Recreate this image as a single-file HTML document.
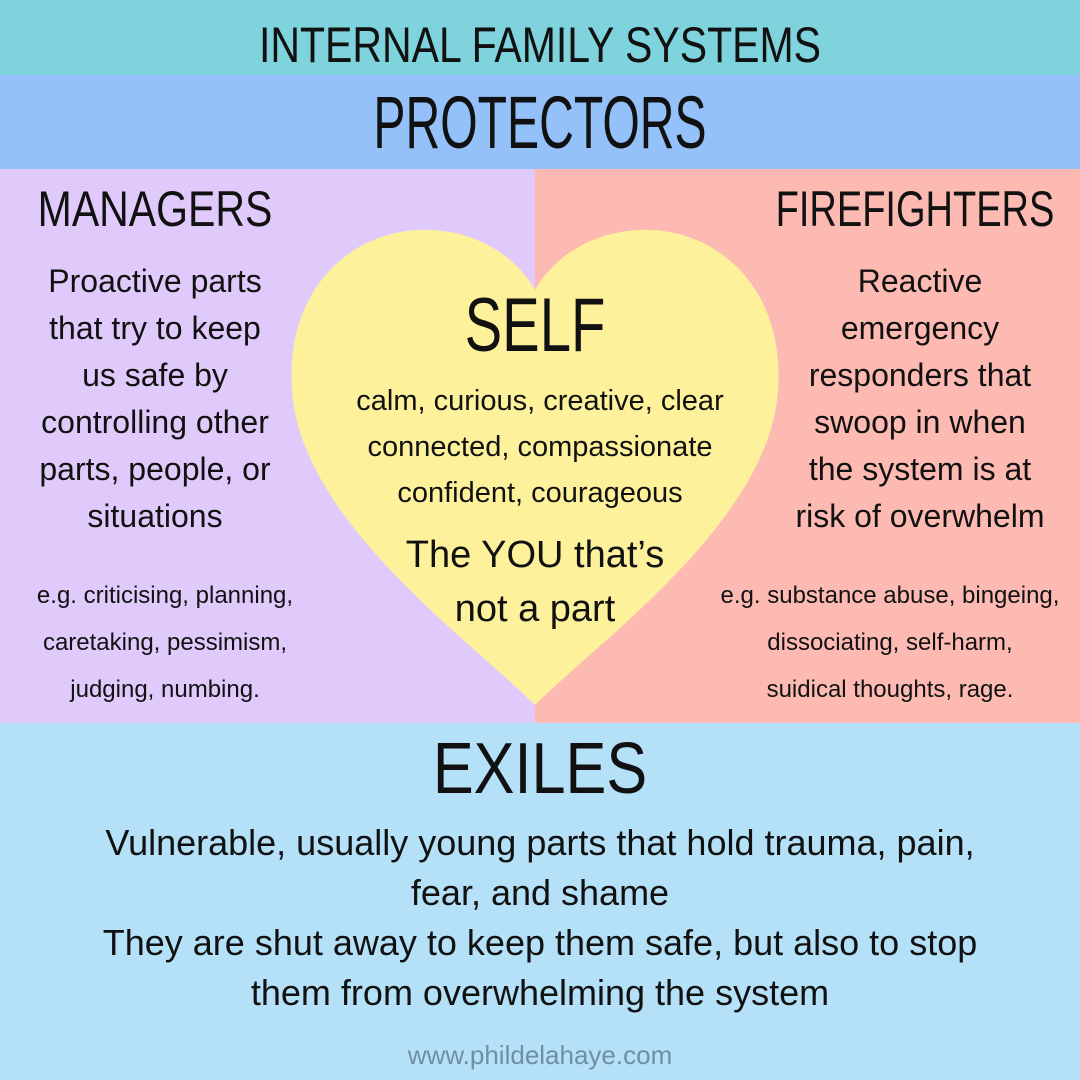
<!DOCTYPE html>
<html><head><meta charset="utf-8"><style>
html,body{margin:0;padding:0}
body{width:1080px;height:1080px;position:relative;overflow:hidden;font-family:"Liberation Sans",sans-serif;color:#111}
.b{position:absolute;left:0;width:1080px}
.t{position:absolute;text-align:center;white-space:nowrap}
</style></head><body>
<div class="b" style="top:0;height:75px;background:#7ed3dc"></div>
<div class="b" style="top:75px;height:94px;background:#95c1fa"></div>
<div style="position:absolute;left:0;top:169px;width:535px;height:554px;background:#e0cafb"></div>
<div style="position:absolute;left:535px;top:169px;width:545px;height:554px;background:#fdbab3"></div>
<div class="b" style="top:723px;height:357px;background:#b4e1f8"></div>
<svg style="position:absolute;left:0;top:0" width="1080" height="1080">
<path d="M535 705 C470 640 300 520 292 390 C285 290 350 232 420 230 C480 228 520 262 535 290 C550 262 590 228 650 230 C720 232 785 290 778 390 C770 520 600 640 535 705 Z" fill="#fdf29b"/>
</svg>
<div class="t" style="left:0;width:1080px;top:16px;font-size:50px;transform:scaleX(0.82)">INTERNAL FAMILY SYSTEMS</div>
<div class="t" style="left:0;width:1080px;top:80px;font-size:74px;transform:scaleX(0.65)">PROTECTORS</div>
<div class="t" style="left:0;width:310px;top:180px;font-size:50px;transform:scaleX(0.82)">MANAGERS</div>
<div class="t" style="left:715px;width:400px;top:180px;font-size:50px;transform:scaleX(0.76)">FIREFIGHTERS</div>
<div class="t" style="left:0;width:310px;top:258px;font-size:32px;line-height:47px">Proactive parts<br>that try to keep<br>us safe by<br>controlling other<br>parts, people, or<br>situations</div>
<div class="t" style="left:0;width:330px;top:572px;font-size:24px;line-height:47px">e.g. criticising, planning,<br>caretaking, pessimism,<br>judging, numbing.</div>
<div class="t" style="left:760px;width:320px;top:258px;font-size:32px;line-height:47px">Reactive<br>emergency<br>responders that<br>swoop in when<br>the system is at<br>risk of overwhelm</div>
<div class="t" style="left:700px;width:380px;top:572px;font-size:24px;line-height:47px">e.g. substance abuse, bingeing,<br>dissociating, self-harm,<br>suidical thoughts, rage.</div>
<div class="t" style="left:335px;width:400px;top:282px;font-size:76px;transform:scaleX(0.74)">SELF</div>
<div class="t" style="left:315px;width:450px;top:378px;font-size:29px;line-height:46px">calm, curious, creative, clear<br>connected, compassionate<br>confident, courageous</div>
<div class="t" style="left:335px;width:400px;top:528px;font-size:38px;line-height:54px">The YOU that’s<br>not a part</div>
<div class="t" style="left:0;width:1080px;top:728px;font-size:72px;transform:scaleX(0.85)">EXILES</div>
<div class="t" style="left:0;width:1080px;top:818px;font-size:36px;line-height:50px">Vulnerable, usually young parts that hold trauma, pain,<br>fear, and shame<br>They are shut away to keep them safe, but also to stop<br>them from overwhelming the system</div>
<div class="t" style="left:0;width:1080px;top:1040px;font-size:26px;color:#6f8fa0">www.phildelahaye.com</div>
</body></html>
